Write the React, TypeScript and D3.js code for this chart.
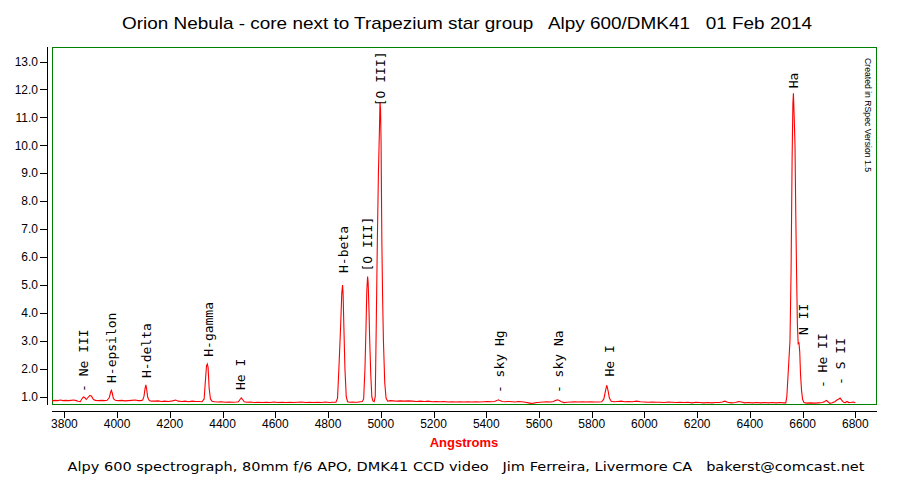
import React from "react";
import * as d3 from "d3";

const TITLE = "Orion Nebula - core next to Trapezium star group   Alpy 600/DMK41   01 Feb 2014";
const FOOTER = "Alpy 600 spectrograph, 80mm f/6 APO, DMK41 CCD video   Jim Ferreira, Livermore CA   bakerst@comcast.net";
const X_LABEL = "Angstroms";
const CREDIT = "Created in RSpec Version 1.5";

const X_TICKS = [3800, 4000, 4200, 4400, 4600, 4800, 5000, 5200, 5400, 5600, 5800, 6000, 6200, 6400, 6600, 6800];
const Y_TICKS = [1, 2, 3, 4, 5, 6, 7, 8, 9, 10, 11, 12, 13];

const WAVELENGTH = [
  3753, 3765, 3775, 3785, 3795, 3805, 3815, 3825, 3835, 3845, 3852, 3860, 3866, 3872, 3877, 3883, 3890, 3897, 3903, 3910,
  3918, 3930, 3942, 3952, 3962, 3970, 3975, 3978, 3981, 3986, 3993, 4005, 4018, 4030, 4042, 4055, 4068, 4080, 4090, 4097,
  4102, 4106, 4109, 4112, 4116, 4122, 4130, 4142, 4155, 4168, 4180, 4195, 4210, 4222, 4232, 4245, 4258, 4270, 4285, 4298,
  4310, 4322, 4330, 4335, 4339, 4342, 4345, 4349, 4354, 4360, 4370, 4382, 4395, 4410, 4425, 4440, 4452, 4460, 4466, 4471,
  4476, 4482, 4492, 4505, 4520, 4535, 4550, 4565, 4580, 4595, 4610, 4625, 4640, 4655, 4670, 4685, 4700, 4715, 4730, 4745,
  4760, 4775, 4790, 4805, 4818, 4830, 4836, 4842, 4848, 4852, 4855, 4857, 4860, 4864, 4869, 4874, 4882, 4892, 4902, 4912,
  4922, 4930, 4935, 4940, 4944, 4947, 4950, 4952, 4955, 4958, 4962, 4966, 4970, 4975, 4979, 4982, 4987, 4991, 4995, 4997,
  4999, 5001, 5004, 5007, 5010, 5015, 5020, 5026, 5035, 5048, 5060, 5075, 5090, 5105, 5120, 5135, 5150, 5165, 5180, 5195,
  5210, 5225, 5240, 5255, 5270, 5285, 5300, 5315, 5330, 5345, 5360, 5375, 5390, 5405, 5420, 5432, 5440, 5446, 5452, 5460,
  5472, 5485, 5498, 5510, 5522, 5535, 5548, 5560, 5570, 5580, 5592, 5605, 5618, 5630, 5645, 5655, 5662, 5670, 5677, 5685,
  5695, 5706, 5720, 5735, 5750, 5765, 5780, 5795, 5810, 5825, 5838, 5846, 5852, 5857, 5862, 5867, 5874, 5885, 5898, 5912,
  5925, 5940, 5955, 5970, 5985, 6000, 6015, 6030, 6045, 6060, 6075, 6090, 6105, 6120, 6135, 6150, 6165, 6180, 6195, 6210,
  6225, 6240, 6255, 6270, 6285, 6295, 6305, 6315, 6330, 6345, 6358, 6368, 6380, 6395, 6410, 6425, 6440, 6455, 6470, 6485,
  6500, 6515, 6528, 6536, 6540, 6546, 6552, 6556, 6560, 6563, 6565, 6568, 6571, 6574, 6577, 6580, 6583, 6586, 6589, 6592,
  6596, 6600, 6605, 6615, 6630, 6645, 6660, 6675, 6684, 6690, 6696, 6703, 6712, 6722, 6730, 6737, 6742, 6748, 6755, 6762,
  6768, 6775, 6785, 6792, 6800,
];

const INTENSITY = [
  0.85, 0.87, 0.86, 0.88, 0.86, 0.87, 0.86, 0.87, 0.88, 0.86, 0.84, 0.82, 0.92, 0.99, 0.97, 0.90, 0.98, 1.05, 1.02, 0.90,
  0.87, 0.86, 0.87, 0.86, 0.87, 0.96, 1.15, 1.23, 1.15, 0.93, 0.87, 0.86, 0.87, 0.85, 0.86, 0.87, 0.88, 0.86, 0.86, 0.88,
  1.02, 1.30, 1.42, 1.27, 0.98, 0.86, 0.84, 0.84, 0.85, 0.83, 0.84, 0.83, 0.85, 0.88, 0.84, 0.83, 0.84, 0.82, 0.84, 0.83,
  0.83, 0.82, 0.92, 1.60, 2.10, 2.17, 2.05, 1.30, 0.92, 0.84, 0.82, 0.81, 0.82, 0.80, 0.81, 0.80, 0.81, 0.82, 0.90, 0.96,
  0.90, 0.82, 0.80, 0.81, 0.79, 0.80, 0.79, 0.80, 0.79, 0.81, 0.79, 0.80, 0.79, 0.80, 0.79, 0.80, 0.81, 0.79, 0.80, 0.79,
  0.80, 0.79, 0.81, 0.79, 0.80, 0.80, 0.95, 2.20, 3.60, 4.70, 5.00, 4.70, 3.50, 2.00, 1.00, 0.82, 0.80, 0.81, 0.80, 0.80,
  0.82, 0.83, 0.92, 2.00, 3.50, 4.80, 5.30, 5.10, 4.20, 3.00, 1.80, 1.00, 0.85, 0.82, 1.00, 3.00, 6.60, 9.00, 10.60, 11.55,
  11.30, 10.20, 6.60, 4.50, 3.00, 1.50, 0.95, 0.84, 0.86, 0.85, 0.84, 0.85, 0.84, 0.85, 0.84, 0.83, 0.84, 0.83, 0.84, 0.82,
  0.83, 0.82, 0.83, 0.81, 0.82, 0.81, 0.82, 0.81, 0.82, 0.81, 0.82, 0.81, 0.82, 0.83, 0.82, 0.83, 0.86, 0.89, 0.86, 0.83,
  0.82, 0.83, 0.82, 0.81, 0.83, 0.82, 0.80, 0.78, 0.76, 0.77, 0.79, 0.80, 0.81, 0.82, 0.81, 0.83, 0.86, 0.89, 0.86, 0.82,
  0.79, 0.80, 0.81, 0.82, 0.81, 0.82, 0.81, 0.82, 0.81, 0.81, 0.82, 0.92, 1.20, 1.41, 1.22, 0.95, 0.84, 0.82, 0.83, 0.84,
  0.82, 0.83, 0.82, 0.84, 0.82, 0.81, 0.80, 0.81, 0.80, 0.80, 0.79, 0.81, 0.80, 0.79, 0.80, 0.79, 0.80, 0.78, 0.80, 0.79,
  0.78, 0.79, 0.78, 0.79, 0.79, 0.81, 0.84, 0.80, 0.78, 0.79, 0.83, 0.81, 0.78, 0.79, 0.78, 0.79, 0.78, 0.79, 0.78, 0.79,
  0.78, 0.79, 0.78, 0.78, 1.00, 2.00, 3.00, 5.40, 9.50, 11.50, 11.86, 11.00, 10.00, 7.50, 5.40, 3.60, 2.90, 2.92, 2.60, 1.80,
  1.20, 0.90, 0.79, 0.77, 0.78, 0.77, 0.78, 0.79, 0.83, 0.87, 0.82, 0.76, 0.78, 0.82, 0.88, 0.92, 0.95, 0.88, 0.80, 0.79,
  0.83, 0.79, 0.80, 0.81, 0.78,
];

const LINE_LABELS = ["- Ne III", "H-epsilon", "H-delta", "H-gamma", "He I", "H-beta", "[O III]", "[O III]", "- sky Hg", "- sky Na", "He I", "Ha", "N II", "- He II", "- S II"];
const LABEL_WAVELENGTH = [3873, 3977, 4109, 4345, 4466, 4856, 4947, 4997, 5450, 5672, 5865, 6564, 6602, 6676, 6742];
const LABEL_LEVEL = [1.17, 1.49, 1.67, 2.43, 1.24, 5.43, 5.48, 11.4, 1.13, 1.13, 1.72, 12.04, 3.21, 1.31, 1.42];

const W = 904;
const H = 487;
const PLOT = { left: 52, right: 877, top: 47, bottom: 405 };

export default function App() {
  const x = d3.scaleLinear().domain([3753, 6882]).range([PLOT.left, PLOT.right]);
  const y = d3.scaleLinear().domain([0.703, 13.52]).range([PLOT.bottom, PLOT.top]);

  const pts: [number, number][] = WAVELENGTH.map((w, i) => [w, INTENSITY[i]]);
  const line = d3
    .line<[number, number]>()
    .x((d) => x(d[0]))
    .y((d) => y(d[1]));

  const axisY = 411.5;
  const yAxisX = 47.5;

  return (
    <svg
      width={W}
      height={H}
      viewBox={`0 0 ${W} ${H}`}
      style={{ position: "absolute", left: 0, top: 0, background: "#fff" }}
    >
      <rect x={0} y={0} width={W} height={H} fill="#fff" />
      <text
        x={467}
        y={29}
        textAnchor="middle"
        fontFamily="Liberation Sans, Arial, sans-serif"
        fontSize={17}
        textLength={690}
        lengthAdjust="spacingAndGlyphs"
        style={{ whiteSpace: "pre" }}
        fill="#000"
      >
        {TITLE}
      </text>

      {/* plot frame */}
      <rect
        x={PLOT.left + 0.5}
        y={PLOT.top + 0.5}
        width={PLOT.right - PLOT.left - 1}
        height={PLOT.bottom - PLOT.top - 1}
        fill="none"
        stroke="#008000"
        strokeWidth={1}
      />

      {/* y axis */}
      <line x1={yAxisX} x2={yAxisX} y1={PLOT.top} y2={PLOT.bottom} stroke="#000" strokeWidth={1} />
      {Y_TICKS.map((t) => (
        <g key={t}>
          <line x1={40} x2={yAxisX} y1={Math.round(y(t)) + 0.5} y2={Math.round(y(t)) + 0.5} stroke="#000" />
          <text
            x={38}
            y={y(t)}
            dy="0.35em"
            textAnchor="end"
            fontFamily="Liberation Sans, Arial, sans-serif"
            fontSize={12}
            fill="#000"
          >
            {t.toFixed(1)}
          </text>
        </g>
      ))}

      {/* x axis */}
      <line x1={PLOT.left} x2={PLOT.right} y1={axisY} y2={axisY} stroke="#000" strokeWidth={1} />
      {X_TICKS.map((t) => (
        <g key={t}>
          <line x1={Math.round(x(t)) + 0.5} x2={Math.round(x(t)) + 0.5} y1={axisY} y2={418} stroke="#000" />
          <text
            x={x(t)}
            y={428}
            textAnchor="middle"
            fontFamily="Liberation Sans, Arial, sans-serif"
            fontSize={12}
            fill="#000"
          >
            {t}
          </text>
        </g>
      ))}
      <text
        x={464}
        y={447}
        textAnchor="middle"
        fontFamily="Liberation Sans, Arial, sans-serif"
        fontWeight="bold"
        fontSize={13}
        fill="#ff0000"
      >
        {X_LABEL}
      </text>

      {/* spectrum */}
      <path d={line(pts) || ""} fill="none" stroke="#ff0000" strokeWidth={1.1} />

      {/* line labels */}
      {LINE_LABELS.map((lab, i) => (
        <text
          key={i}
          transform={`translate(${x(LABEL_WAVELENGTH[i])},${y(LABEL_LEVEL[i])}) rotate(-90)`}
          dy="0.36em"
          textAnchor="start"
          fontFamily="DejaVu Sans Mono, monospace"
          fontSize={13}
          style={{ whiteSpace: "pre" }}
          fill="#000"
        >
          {lab}
        </text>
      ))}

      {/* credit */}
      <text
        transform={`translate(865,58) rotate(90)`}
        textAnchor="start"
        fontFamily="Liberation Sans, Arial, sans-serif"
        fontSize={9}
        textLength={114}
        lengthAdjust="spacingAndGlyphs"
        fill="#000"
      >
        {CREDIT}
      </text>

      <text
        x={466}
        y={471}
        textAnchor="middle"
        fontFamily="DejaVu Sans, Verdana, sans-serif"
        fontSize={13}
        textLength={797}
        lengthAdjust="spacingAndGlyphs"
        style={{ whiteSpace: "pre" }}
        fill="#000"
      >
        {FOOTER}
      </text>
    </svg>
  );
}
